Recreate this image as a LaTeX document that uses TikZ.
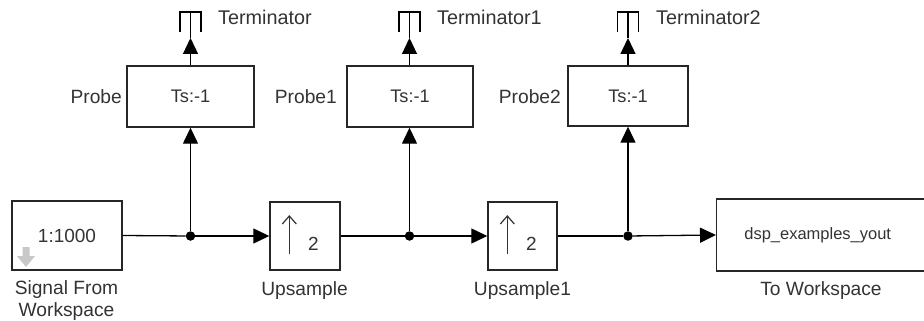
\documentclass[tikz,border=0pt]{standalone}
\usepackage{fontspec}
\setmainfont{Liberation Sans}
\usetikzlibrary{arrows.meta}
\definecolor{txt}{HTML}{333333}
\definecolor{iconsgray}{HTML}{C8C8C8}
\tikzset{
  blk/.style={draw=black!85, line width=1.4pt, fill=white, inner sep=0pt, text=txt},
  wire/.style={line width=1.3pt, draw=black},
  arr/.style={wire, -{Triangle[length=16pt,width=15pt]}},
  dot/.style={circle, fill=black, inner sep=0pt, minimum size=9.5pt},
  lbl/.style={text=txt, font=\fontsize{19.2}{22}\selectfont, inner sep=0pt},
  tlbl/.style={lbl, font=\fontsize{19.8}{22}\selectfont},
  term/.style={line width=1.3pt},
}
\begin{document}
\begin{tikzpicture}[x=1pt,y=-1pt]
\useasboundingbox (0,0) rectangle (924,321);
% blocks
\node[blk, minimum width=110pt, minimum height=69pt, font=\fontsize{19}{22}\selectfont] (sfw) at (67,235.5) {1:1000};
\node[blk, minimum width=70pt, minimum height=68pt] (up1) at (305,236) {};
\node[blk, minimum width=69pt, minimum height=68pt] (up2) at (522.5,236) {};
\node[blk, minimum width=210pt, minimum height=72pt, anchor=west, font=\fontsize{16.5}{20}\selectfont] (tow) at (716,235) {\hspace*{-4pt}dsp\_examples\_yout\hspace*{4pt}};
\node[blk, minimum width=127pt, minimum height=61pt, font=\fontsize{18.2}{20}\selectfont] (p0) at (190.5,96.5) {Ts:-1};
\node[blk, minimum width=126pt, minimum height=61pt, font=\fontsize{18.2}{20}\selectfont] (p1) at (410,96.5) {Ts:-1};
\node[blk, minimum width=120pt, minimum height=60pt, font=\fontsize{18.2}{20}\selectfont] (p2) at (628,96) {Ts:-1};
% source icon (gray down arrow)
\fill[iconsgray] (22.5,247) -- (29.5,247) -- (29.5,256) -- (35,256) -- (26,267) -- (17,256) -- (22.5,256) -- cycle;
% upsample icons
\foreach \b/\n in {up1/u1, up2/u2}{
  \draw[line width=1.2pt, draw=txt] ([xshift=20pt,yshift=-18pt]\b.west) -- ([xshift=20pt,yshift=20pt]\b.west);
  \draw[line width=1.2pt, draw=txt] ([xshift=13pt,yshift=12pt]\b.west) -- ([xshift=20pt,yshift=20pt]\b.west) -- ([xshift=27pt,yshift=12pt]\b.west);
  \node[lbl, font=\fontsize{19}{22}\selectfont] (\n) at ([xshift=44pt,yshift=-8pt]\b.west) {2};
}
% junctions
\node[dot] (j1) at (190.5,236) {};
\node[dot] (j2) at (409.5,236) {};
\node[dot] (j3) at (628,236) {};
% terminators
\foreach \n/\x in {t0/190.5, t1/409.5, t2/628}{
  \coordinate (\n) at (\x,38);
  \draw[term] (\x-10.5,32) -- (\x-10.5,12) -- (\x+10.5,12) -- (\x+10.5,32);
  \draw[term] (\x,12) -- (\n);
}
% wires
\draw[wire] (sfw.east) -- (j1);
\draw[arr] (j1) -- (up1.west);
\draw[wire] (up1.east) -- (j2);
\draw[arr] (j2) -- (up2.west);
\draw[wire] (up2.east) -- (j3);
\draw[arr] (j3) -- (tow.west);
\draw[arr] (j1) -- (j1 |- p0.south);
\draw[arr] (j2) -- (j2 |- p1.south);
\draw[arr] (j3) -- (j3 |- p2.south);
\draw[arr] (t0 |- p0.north) -- (t0);
\draw[arr] (t1 |- p1.north) -- (t1);
\draw[arr] (t2 |- p2.north) -- (t2);
% labels
\node[tlbl, anchor=base west] (lt0) at (218,25) {Terminator};
\node[tlbl, anchor=base west] (lt1) at (437,25) {Terminator1};
\node[tlbl, anchor=base west] (lt2) at (656,25) {Terminator2};
\node[lbl, anchor=base east] (lp0) at (122,103) {Probe};
\node[lbl, anchor=base east] (lp1) at (337,103) {Probe1};
\node[lbl, anchor=base east] (lp2) at (561,103) {Probe2};
\node[lbl, anchor=base, align=center] (lsfw) at (66.5,316) {Signal From\\Workspace};
\node[lbl, anchor=base] (lup1) at (304.5,295) {Upsample};
\node[lbl, anchor=base] (lup2) at (522.5,295) {Upsample1};
\node[lbl, anchor=base] (ltow) at (821,295) {To Workspace};
\end{tikzpicture}
\end{document}
